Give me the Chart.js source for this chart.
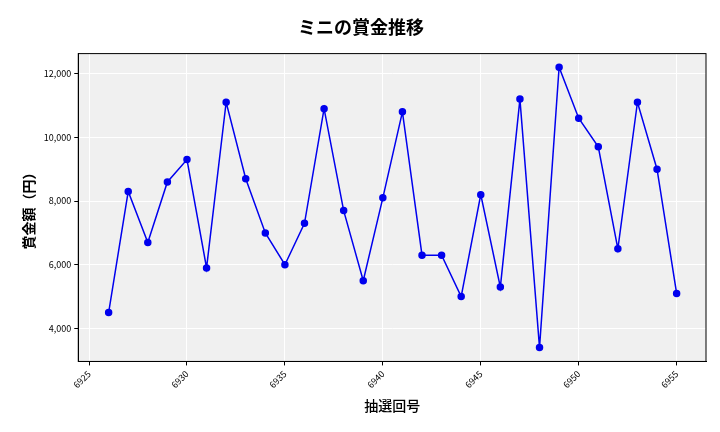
<!DOCTYPE html>
<html>
<head>
<meta charset="utf-8">
<script src="https://cdn.jsdelivr.net/npm/chart.js@4"></script>
<style>
  body { margin: 0; background: #fff; }
  #wrap { width: 720px; height: 432px; }
</style>
</head>
<body>
<div id="wrap"><canvas id="chart"></canvas></div>
<script>
const draws = [6926, 6927, 6928, 6929, 6930, 6931, 6932, 6933, 6934, 6935,
               6936, 6937, 6938, 6939, 6940, 6941, 6942, 6943, 6944, 6945,
               6946, 6947, 6948, 6949, 6950, 6951, 6952, 6953, 6954, 6955];
const prizes = [4500, 8300, 6700, 8600, 9300, 5900, 11100, 8700, 7000, 6000,
                7300, 10900, 7700, 5500, 8100, 10800, 6300, 6300, 5000, 8200,
                5300, 11200, 3400, 12200, 10600, 9700, 6500, 11100, 9000, 5100];

const font = "'Noto Sans CJK JP', 'Noto Sans', sans-serif";

// grey plot area with a frame
const plotBg = {
    id: 'plotBg',
    beforeDraw(chart) {
        const a = chart.chartArea;
        const ctx = chart.ctx;
        ctx.save();
        ctx.fillStyle = '#f0f0f0';
        ctx.fillRect(a.left, a.top, a.right - a.left, a.bottom - a.top);
        ctx.restore();
    },
    afterDraw(chart) {
        const a = chart.chartArea;
        const ctx = chart.ctx;
        ctx.save();
        ctx.strokeStyle = '#000';
        ctx.lineWidth = 1;
        ctx.strokeRect(a.left, a.top, a.right - a.left, a.bottom - a.top);
        ctx.restore();
    }
};

new Chart(document.getElementById('chart'), {
    type: 'line',
    data: {
        datasets: [{
            data: draws.map((d, i) => ({ x: d, y: prizes[i] })),
            borderColor: '#0000ee',
            backgroundColor: '#0000ee',
            borderWidth: 1.5,
            pointRadius: 3,
            tension: 0
        }]
    },
    options: {
        responsive: true,
        maintainAspectRatio: false,
        animation: false,
        layout: { padding: { left: 16, right: 14, top: 10, bottom: 14 } },
        plugins: {
            legend: { display: false },
            title: {
                display: true,
                text: 'ミニの賞金推移',
                font: { family: font, size: 18, weight: 'bold' },
                color: '#000',
                padding: { top: 6, bottom: 16 }
            }
        },
        scales: {
            x: {
                type: 'linear',
                min: 6924.45,
                max: 6956.5,
                afterBuildTicks(axis) {
                    axis.ticks = [6925, 6930, 6935, 6940, 6945, 6950, 6955].map(v => ({ value: v }));
                },
                ticks: {
                    callback: v => String(v),
                    maxRotation: 45, minRotation: 45,
                    font: { family: font, size: 9 }, color: '#000'
                },
                grid: { color: '#ffffff', drawTicks: true, tickColor: '#000', tickLength: 4 },
                border: { color: '#000' },
                title: {
                    display: true, text: '抽選回号',
                    font: { family: font, size: 14, weight: '500' }, color: '#000'
                }
            },
            y: {
                min: 2966,
                max: 12627,
                afterBuildTicks(axis) {
                    axis.ticks = [4000, 6000, 8000, 10000, 12000].map(v => ({ value: v }));
                },
                ticks: {
                    callback: v => v.toLocaleString('en-US'),
                    font: { family: font, size: 9 }, color: '#000'
                },
                grid: { color: '#ffffff', tickColor: '#000', tickLength: 4 },
                border: { color: '#000' },
                title: {
                    display: true, text: '賞金額（円）',
                    font: { family: font, size: 14, weight: 'bold' }, color: '#000'
                }
            }
        }
    },
    plugins: [plotBg]
});
</script>
</body>
</html>
